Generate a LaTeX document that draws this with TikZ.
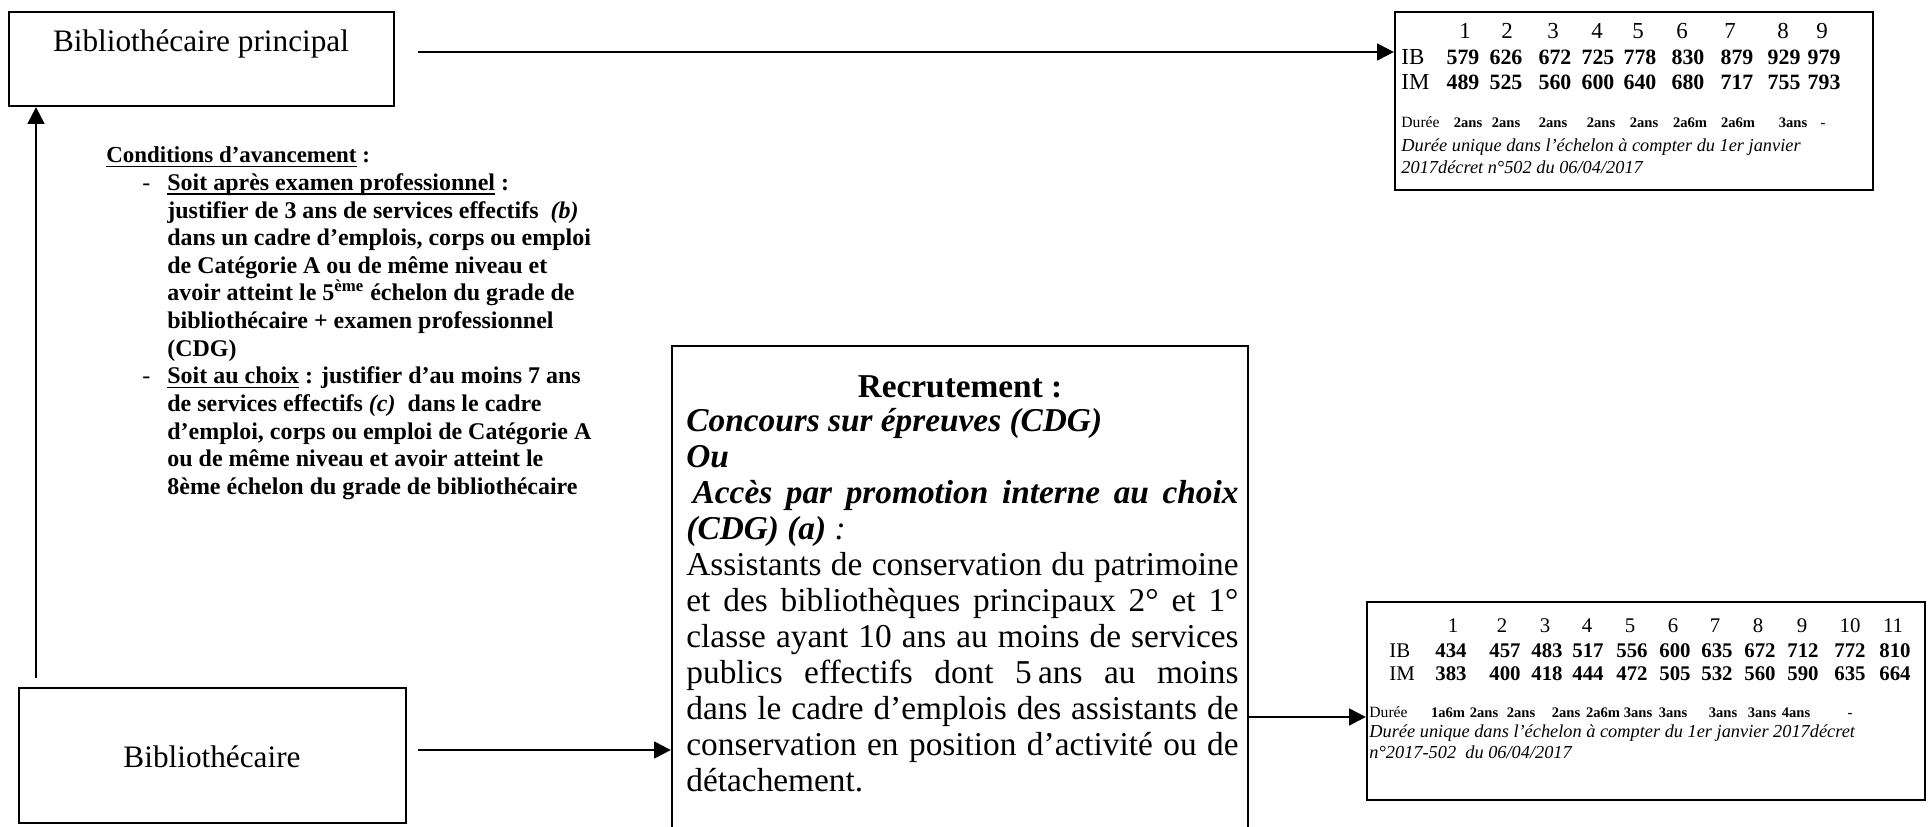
\documentclass[tikz,border=0pt]{standalone}
\usepackage{fontspec}
\setmainfont{Liberation Serif}
\usetikzlibrary{arrows.meta,fit}
\newcommand\myul[1]{\leavevmode\setbox0\hbox{#1}\rlap{\vrule width\wd0 height -1.3pt depth 2.1pt}\box0\relax}
\begin{document}
\begin{tikzpicture}[x=0.48pt,y=-0.48pt,
  box/.style={draw,line width=1.1pt,inner sep=0pt},
  conn/.style={line width=1.1pt,-{Triangle[length=8pt,width=8pt]}},
  lt/.style={inner sep=0pt,anchor=base west},
  ct/.style={inner sep=0pt,anchor=base},
  big/.style={font=\fontsize{15}{17}\selectfont},
  cond/.style={lt,font=\fontsize{11.5}{13}\selectfont\bfseries},
  rec/.style={lt,font=\fontsize{16}{18}\selectfont},
  numU/.style={ct,font=\fontsize{11}{13}\selectfont},
  numL/.style={ct,font=\fontsize{10}{12}\selectfont},
  dur/.style={ct,font=\fontsize{7}{9}\selectfont\bfseries},
  durl/.style={lt,font=\fontsize{7.5}{9}\selectfont},
  itl/.style={lt,font=\fontsize{8.8}{10}\selectfont\itshape}]
\useasboundingbox (0,0) rectangle (1928,827);
\clip (0,0) rectangle (1928,827);

% boxes
\node[box,fit={(9,12) (394,106)}] (pb) {};
\node[big,ct] (pbt) at (201,52) {Bibliothécaire principal};
\node[box,fit={(19,688) (406,823)}] (bb) {};
\node[big,ct] (bbt) at (212,767) {Bibliothécaire};
\node[box,fit={(672,346) (1248,840)}] (rb) {};
\node[box,fit={(1395,12) (1873,190)}] (ut) {};
\node[box,fit={(1367,602) (1925,800)}] (lt) {};

% connectors
\coordinate (a1) at (418,52);
\draw[conn] (a1) -- (a1 -| ut.west);
\coordinate (v0) at (36,678);
\draw[conn] (v0) -- (v0 |- pb.south);
\coordinate (a2) at (418,750);
\draw[conn] (a2) -- (a2 -| rb.west);
\coordinate (a3) at (1248,717);
\draw[conn] (a3) -- (a3 -| lt.west);

% conditions
\node[lt,font=\fontsize{11}{13}\selectfont\bfseries] (c1) at (106,163) {\myul{Conditions d’avancement} :};
\node[lt,font=\fontsize{11.5}{13}\selectfont] (d1) at (142,190.6) {-};
\node[cond] (c2) at (167,190.6) {\myul{Soit après examen professionnel} :};
\node[cond] (c3) at (167,218.2) {justifier de 3 ans de services effectifs \ \textit{(b)}};
\node[cond] (c4) at (167,245.8) {dans un cadre d’emplois, corps ou emploi};
\node[cond] (c5) at (167,273.4) {de Catégorie A ou de même niveau et};
\node[cond] (c6) at (167,301.0) {avoir atteint le 5\textsuperscript{ème} échelon du grade de};
\node[cond] (c7) at (167,328.6) {bibliothécaire + examen professionnel};
\node[cond] (c8) at (167,356.2) {(CDG)};
\node[lt,font=\fontsize{11.5}{13}\selectfont] (d2) at (142,383.8) {-};
\node[cond] (c9) at (167,383.8) {\myul{Soit au choix} : justifier d’au moins 7 ans};
\node[cond] (c10) at (167,411.4) {de services effectifs \textit{(c)} \ dans le cadre};
\node[cond] (c11) at (167,439.0) {d’emploi, corps ou emploi de Catégorie A};
\node[cond] (c12) at (167,466.6) {ou de même niveau et avoir atteint le};
\node[cond] (c13) at (167,494.2) {8ème échelon du grade de bibliothécaire};

% recruitment text
\node[rec,ct] (r1) at (960,397) {\textbf{Recrutement :}};
\node[rec] (r2) at (686,431) {\textbf{\textit{Concours sur épreuves (CDG)}}};
\node[rec] (r3) at (686,467) {\textbf{\textit{Ou}}};
\node[rec] (r4) at (686,503) {\makebox[265pt][s]{\hspace*{3pt}\textbf{\textit{Accès par promotion interne au choix}}}};
\node[rec] (r5) at (686,539) {\textbf{\textit{(CDG) (a)}} \textit{:}};
\node[rec] (r6) at (686,575) {\makebox[265pt][s]{Assistants de conservation du patrimoine}};
\node[rec] (r7) at (686,611) {\makebox[265pt][s]{et des bibliothèques principaux 2° et 1°}};
\node[rec] (r8) at (686,647) {\makebox[265pt][s]{classe ayant 10 ans au moins de services}};
\node[rec] (r9) at (686,683) {\makebox[265pt][s]{publics effectifs dont 5\kern3pt ans au moins}};
\node[rec] (r10) at (686,719) {\makebox[265pt][s]{dans le cadre d’emplois des assistants de}};
\node[rec] (r11) at (686,755) {\makebox[265pt][s]{conservation en position d’activité ou de}};
\node[rec] (r12) at (686,791) {détachement.};

% upper table
\node[lt,font=\fontsize{11}{13}\selectfont] (uib) at (1401,65) {IB};
\node[lt,font=\fontsize{11}{13}\selectfont] (uim) at (1401,90) {IM};
\foreach \x/\n [count=\i] in {1465/1,1507/2,1553/3,1597/4,1638/5,1682/6,1730/7,1783/8,1822/9}
  \node[numU] (uh\i) at (\x,39) {\n};
\foreach \x/\n [count=\i] in {1463/579,1506/626,1555/672,1598/725,1640/778,1688/830,1737/879,1784/929,1824/979}
  \node[numU,font=\fontsize{10.5}{13}\selectfont\bfseries] (ub\i) at (\x,65) {\n};
\foreach \x/\n [count=\i] in {1463/489,1506/525,1555/560,1598/600,1640/640,1688/680,1737/717,1784/755,1824/793}
  \node[numU,font=\fontsize{10.5}{13}\selectfont\bfseries] (um\i) at (\x,90) {\n};
\node[durl] (ud) at (1401,128) {Durée};
\foreach \x/\n [count=\i] in {1468/2ans,1506/2ans,1553/2ans,1601/2ans,1644/2ans,1690/2a6m,1738/2a6m,1793/3ans,1823/-}
  \node[dur] (udv\i) at (\x,128) {\n};
\node[itl] (ui1) at (1401,152) {Durée unique dans l’échelon à compter du 1er janvier};
\node[itl] (ui2) at (1401,174) {2017décret n°502 du 06/04/2017};

% lower table
\node[lt,font=\fontsize{10}{12}\selectfont] (lib) at (1389,657) {IB};
\node[lt,font=\fontsize{10}{12}\selectfont] (lim) at (1389,680) {IM};
\foreach \x/\n [count=\i] in {1453/1,1502/2,1545/3,1587/4,1630/5,1673/6,1715/7,1758/8,1802/9,1850/10,1893/11}
  \node[numL] (lh\i) at (\x,632) {\n};
\foreach \x/\n [count=\i] in {1451/434,1505/457,1547/483,1588/517,1632/556,1675/600,1717/635,1760/672,1803/712,1850/772,1895/810}
  \node[numL,font=\fontsize{10}{12}\selectfont\bfseries] (lb\i) at (\x,657) {\n};
\foreach \x/\n [count=\i] in {1451/383,1505/400,1547/418,1588/444,1632/472,1675/505,1717/532,1760/560,1803/590,1850/635,1895/664}
  \node[numL,font=\fontsize{10}{12}\selectfont\bfseries] (lm\i) at (\x,680) {\n};
\node[durl] (ld) at (1369,717) {Durée};
\foreach \x/\n [count=\i] in {1448/1a6m,1484/2ans,1521/2ans,1566/2ans,1603/2a6m,1638/3ans,1673/3ans,1723/3ans,1762/3ans,1796/4ans,1850/-}
  \node[dur] (ldv\i) at (\x,717) {\n};
\node[itl] (li1) at (1369,737) {Durée unique dans l’échelon à compter du 1er janvier 2017décret};
\node[itl] (li2) at (1369,758) {n°2017-502\ \ du 06/04/2017};
\end{tikzpicture}
\end{document}
